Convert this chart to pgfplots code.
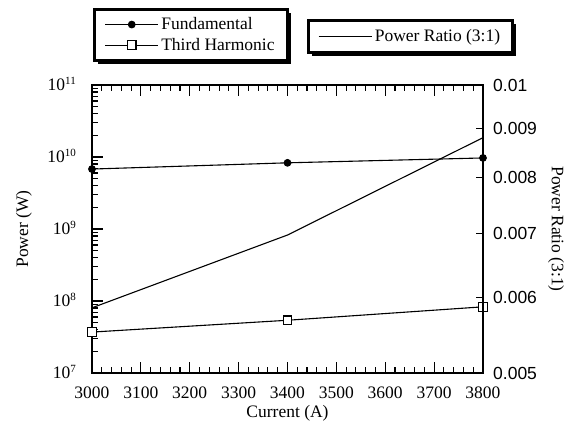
\documentclass[border=0pt]{standalone}
\usepackage{pgfplots}
\pgfplotsset{compat=1.18}
\usepackage{fontspec}
\setmainfont{Liberation Serif}
\newfontfamily\arial{Liberation Sans}
\usetikzlibrary{backgrounds}
\newcommand{\fs}{\fontsize{17.5bp}{21bp}\selectfont}
\newcommand{\sx}[1]{10\raisebox{0.75ex}{\fontsize{11bp}{11bp}\selectfont #1}}
\pgfplotsset{
  common/.style={
    at={(0,0)}, anchor=south west, scale only axis, width=391bp, height=288bp,
    xmin=3000, xmax=3800, clip=false, font=\fs,
    tick align=inside,
    axis line style={line width=1.4bp, -},
    every tick/.style={line width=1.1bp, black},
    legend image code/.code={\draw[mark repeat=2,mark phase=2,##1] plot coordinates {(0bp,0bp) (26.5bp,0bp) (53bp,0bp)};},
  },
}
\begin{document}
\begin{tikzpicture}[font=\fs]
\path[use as bounding box] (-92bp,-56bp) rectangle (485bp,373bp);
\begin{axis}[common,
  ymode=log, ymin=1e7, ymax=1e11,
  xtick={3000,3100,3200,3300,3400,3500,3600,3700,3800}, minor x tick num=4,
  ytick={1e7,1e8,1e9,1e10,1e11},
  yticklabels={\sx{7},\sx{8},\sx{9},\sx{10},\sx{11}},
  minor ytick={2e7,3e7,4e7,5e7,6e7,7e7,8e7,9e7,2e8,3e8,4e8,5e8,6e8,7e8,8e8,9e8,2e9,3e9,4e9,5e9,6e9,7e9,8e9,9e9,2e10,3e10,4e10,5e10,6e10,7e10,8e10,9e10},
  ytick pos=left,
  major tick length=11bp, minor tick length=6.5bp,
  /pgf/number format/assume math mode=true, /pgf/number format/1000 sep={},
  xticklabel style={anchor=center, yshift=-19.5bp, font=\fs},
  yticklabel style={anchor=base east, inner sep=0pt, xshift=-16bp, yshift=-6bp, font=\fs},
  xlabel={Current (A)}, ylabel={Power (W)},
  every axis x label/.style={at={(axis description cs:0.5,0)}, anchor=center, yshift=-40bp},
  every axis y label/.style={at={(axis description cs:0,0.5)}, xshift=-68bp, rotate=90, anchor=center},
  legend style={name=leg1, at={(axis description cs:0.0064,1.262)}, anchor=north west,
    draw=none, fill=white,
    inner xsep=10bp, inner ysep=5.5bp, row sep=2bp, nodes={inner sep=2.5bp}, font=\fs,
    cells={anchor=west}},
]
\addplot[black, line width=1.1bp, mark=*, mark size=3.3bp, mark options={fill=black}]
  coordinates {(3000,6.8e9) (3400,8.3e9) (3800,9.7e9)};
\addlegendentry{Fundamental}
\addplot[black, line width=1.1bp, mark=square*, mark size=4.3bp, mark options={fill=white}]
  coordinates {(3000,3.7e7) (3400,5.4e7) (3800,8.3e7)};
\addlegendentry{Third Harmonic}
\end{axis}
\begin{axis}[common,
  axis x line=none, axis y line*=right,
  ymode=log, ymin=0.005, ymax=0.01,
  ytick={0.005,0.006,0.007,0.008,0.009,0.01},
  yticklabels={0.005,0.006,0.007,0.008,0.009,0.01},
  major tick length=6.5bp,
  yticklabel style={anchor=west, inner sep=0pt, xshift=10bp, font={\arial\fs}},
  ylabel={Power Ratio (3:1)},
  every axis y label/.style={at={(axis description cs:1,0.5)}, xshift=73bp, rotate=-90, anchor=center},
  legend style={name=leg2, at={(axis description cs:0.5537,1.224)}, anchor=north west,
    draw=none, fill=white,
    inner xsep=9.5bp, inner ysep=6.5bp, nodes={inner sep=2.5bp}, font=\fs,
    cells={anchor=west}},
]
\addplot[black, line width=1.1bp] coordinates {(3000,0.00585) (3400,0.00697) (3800,0.00881)};
\addlegendentry{Power Ratio (3:1)}
\end{axis}
\begin{pgfonlayer}{background}
  \fill[black] ([xshift=3.5bp,yshift=-3.5bp]leg1.south west) rectangle ([xshift=3.5bp,yshift=-3.5bp]leg1.north east);
  \fill[black] ([xshift=3.5bp,yshift=-3.5bp]leg2.south west) rectangle ([xshift=3.5bp,yshift=-3.5bp]leg2.north east);
\end{pgfonlayer}
\draw[line width=3bp] (leg1.south west) rectangle (leg1.north east);
\draw[line width=3bp] (leg2.south west) rectangle (leg2.north east);
\end{tikzpicture}
\end{document}
